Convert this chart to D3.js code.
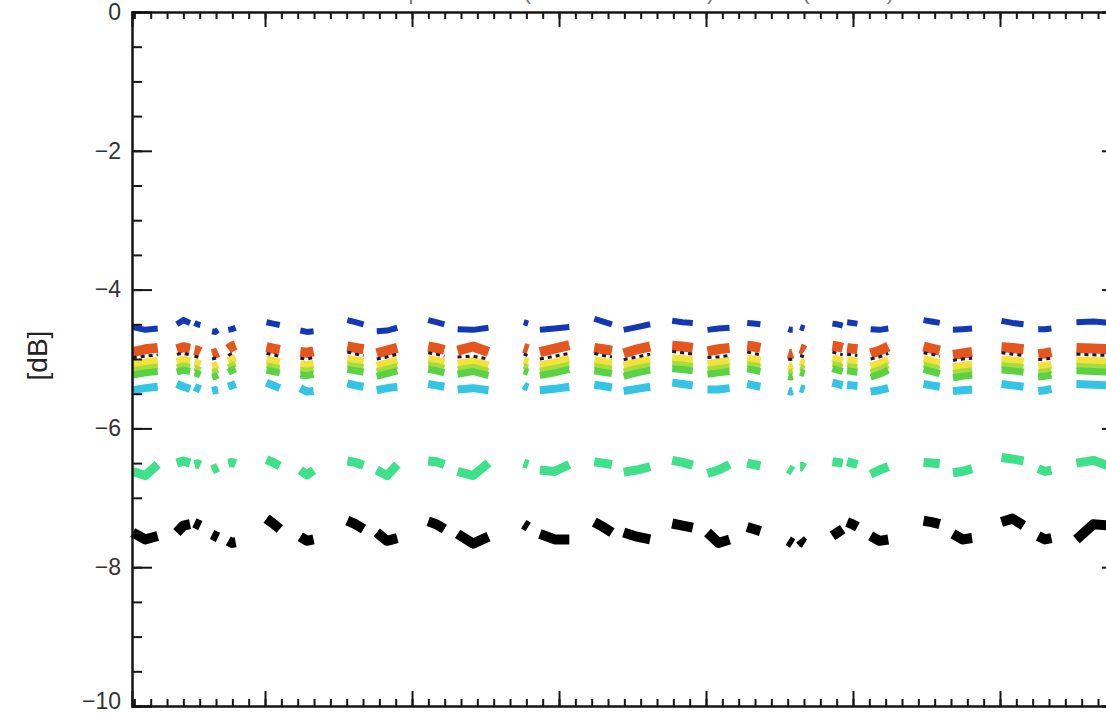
<!DOCTYPE html>
<html>
<head>
<meta charset="utf-8">
<script src="https://cdn.jsdelivr.net/npm/d3@7"></script>
<style>
  html, body { margin: 0; padding: 0; background: #ffffff; }
  svg { display: block; }
</style>
</head>
<body>
<div id="chart"></div>
<script>

// cluster start / end positions along the x axis (major tick = 1 unit)
const segStart = [0.10, 0.40, 0.52, 0.64, 0.75, 1.01, 1.24, 1.56, 1.76, 2.11, 2.31, 2.76, 2.87, 3.24,
                  3.44, 3.77, 4.01, 4.28, 4.56, 4.64, 4.86, 4.96, 5.12, 5.48, 5.68, 6.01, 6.26, 6.52];
const segEnd   = [0.27, 0.49, 0.56, 0.68, 0.80, 1.10, 1.33, 1.67, 1.90, 2.22, 2.52, 2.79, 3.07, 3.36,
                  3.62, 3.91, 4.16, 4.37, 4.59, 4.67, 4.93, 5.03, 5.24, 5.59, 5.81, 6.16, 6.35, 6.75];

// each series: [left, middle, right] value in dB for every cluster
const blueVals = [
  [-4.54,-4.58,-4.56],[-4.50,-4.44,-4.48],[-4.48,-4.50,-4.51],[-4.60,-4.61,-4.58],[-4.58,-4.57,-4.55],
  [-4.47,-4.49,-4.51],[-4.59,-4.61,-4.60],[-4.44,-4.47,-4.50],[-4.60,-4.59,-4.55],[-4.44,-4.47,-4.50],
  [-4.57,-4.58,-4.55],[-4.47,-4.48,-4.49],[-4.58,-4.56,-4.54],[-4.42,-4.46,-4.50],[-4.58,-4.54,-4.50],
  [-4.45,-4.47,-4.48],[-4.58,-4.56,-4.55],[-4.48,-4.49,-4.50],[-4.57,-4.58,-4.58],[-4.54,-4.55,-4.56],
  [-4.49,-4.50,-4.52],[-4.47,-4.48,-4.49],[-4.57,-4.58,-4.56],[-4.44,-4.46,-4.48],[-4.58,-4.57,-4.56],
  [-4.45,-4.48,-4.50],[-4.57,-4.57,-4.56],[-4.47,-4.46,-4.48]];

const orangeVals = [
  [-4.90,-4.86,-4.84],[-4.86,-4.83,-4.85],[-4.87,-4.88,-4.90],[-4.93,-4.92,-4.90],[-4.86,-4.82,-4.80],
  [-4.83,-4.85,-4.87],[-4.90,-4.91,-4.89],[-4.82,-4.84,-4.86],[-4.92,-4.88,-4.84],[-4.82,-4.84,-4.87],
  [-4.88,-4.82,-4.90],[-4.84,-4.85,-4.86],[-4.90,-4.85,-4.80],[-4.84,-4.86,-4.88],[-4.92,-4.86,-4.82],
  [-4.81,-4.82,-4.84],[-4.89,-4.86,-4.84],[-4.81,-4.82,-4.84],[-4.92,-4.93,-4.92],[-4.85,-4.86,-4.88],
  [-4.81,-4.82,-4.84],[-4.84,-4.85,-4.86],[-4.92,-4.88,-4.82],[-4.82,-4.85,-4.88],[-4.94,-4.92,-4.90],
  [-4.83,-4.84,-4.86],[-4.93,-4.92,-4.90],[-4.84,-4.85,-4.86]];

const navyVals = [
  [-4.98,-4.96,-4.94],[-4.93,-4.92,-4.94],[-4.96,-4.97,-4.98],[-5.00,-4.99,-4.98],[-4.95,-4.92,-4.90],
  [-4.92,-4.94,-4.96],[-4.99,-5.00,-4.98],[-4.90,-4.93,-4.95],[-5.00,-4.97,-4.93],[-4.91,-4.93,-4.96],
  [-4.97,-4.96,-5.00],[-4.93,-4.94,-4.95],[-5.00,-4.96,-4.92],[-4.92,-4.95,-4.97],[-5.01,-4.97,-4.93],
  [-4.89,-4.91,-4.93],[-4.98,-4.97,-4.95],[-4.90,-4.92,-4.94],[-5.00,-5.01,-5.00],[-4.95,-4.96,-4.97],
  [-4.90,-4.92,-4.94],[-4.93,-4.94,-4.95],[-5.00,-4.97,-4.92],[-4.91,-4.93,-4.96],[-5.02,-5.00,-4.99],
  [-4.91,-4.93,-4.95],[-5.01,-5.00,-4.99],[-4.93,-4.94,-4.95]];

const yellowVals = [
  [-5.08,-5.05,-5.03],[-5.04,-5.01,-5.03],[-5.05,-5.06,-5.08],[-5.11,-5.10,-5.08],[-5.04,-5.01,-4.99],
  [-5.01,-5.03,-5.05],[-5.08,-5.09,-5.07],[-5.00,-5.02,-5.04],[-5.10,-5.06,-5.02],[-5.00,-5.02,-5.05],
  [-5.07,-5.03,-5.09],[-5.02,-5.03,-5.04],[-5.09,-5.05,-5.00],[-5.02,-5.04,-5.06],[-5.10,-5.05,-5.01],
  [-4.99,-5.00,-5.02],[-5.07,-5.05,-5.03],[-4.99,-5.01,-5.03],[-5.10,-5.11,-5.10],[-5.04,-5.05,-5.06],
  [-4.99,-5.01,-5.03],[-5.02,-5.03,-5.04],[-5.11,-5.07,-5.01],[-5.00,-5.03,-5.06],[-5.12,-5.10,-5.08],
  [-5.01,-5.02,-5.04],[-5.11,-5.10,-5.08],[-5.02,-5.03,-5.04]];

const limeVals = [
  [-5.16,-5.13,-5.11],[-5.12,-5.09,-5.11],[-5.13,-5.14,-5.16],[-5.19,-5.18,-5.16],[-5.12,-5.09,-5.07],
  [-5.09,-5.11,-5.13],[-5.16,-5.17,-5.15],[-5.08,-5.10,-5.12],[-5.18,-5.14,-5.10],[-5.08,-5.10,-5.13],
  [-5.15,-5.11,-5.17],[-5.10,-5.11,-5.12],[-5.17,-5.13,-5.08],[-5.10,-5.12,-5.14],[-5.18,-5.13,-5.09],
  [-5.07,-5.08,-5.10],[-5.15,-5.13,-5.11],[-5.07,-5.09,-5.11],[-5.18,-5.19,-5.18],[-5.12,-5.13,-5.14],
  [-5.07,-5.09,-5.11],[-5.10,-5.11,-5.12],[-5.19,-5.15,-5.09],[-5.08,-5.11,-5.14],[-5.20,-5.18,-5.16],
  [-5.09,-5.10,-5.12],[-5.19,-5.18,-5.16],[-5.10,-5.11,-5.12]];

const greenVals = [
  [-5.23,-5.20,-5.18],[-5.19,-5.16,-5.18],[-5.20,-5.21,-5.23],[-5.26,-5.25,-5.23],[-5.19,-5.16,-5.14],
  [-5.16,-5.18,-5.20],[-5.23,-5.24,-5.22],[-5.15,-5.17,-5.19],[-5.25,-5.21,-5.17],[-5.15,-5.17,-5.20],
  [-5.22,-5.18,-5.24],[-5.17,-5.18,-5.19],[-5.24,-5.20,-5.15],[-5.17,-5.19,-5.21],[-5.25,-5.20,-5.16],
  [-5.14,-5.15,-5.17],[-5.22,-5.20,-5.18],[-5.14,-5.16,-5.18],[-5.25,-5.26,-5.25],[-5.19,-5.20,-5.21],
  [-5.14,-5.16,-5.18],[-5.17,-5.18,-5.19],[-5.26,-5.22,-5.16],[-5.15,-5.18,-5.21],[-5.27,-5.25,-5.23],
  [-5.16,-5.17,-5.19],[-5.26,-5.25,-5.23],[-5.17,-5.18,-5.19]];

const cyanVals = [
  [-5.45,-5.42,-5.40],[-5.36,-5.40,-5.43],[-5.40,-5.42,-5.44],[-5.46,-5.45,-5.44],[-5.40,-5.38,-5.36],
  [-5.34,-5.38,-5.42],[-5.42,-5.47,-5.46],[-5.35,-5.38,-5.40],[-5.45,-5.42,-5.40],[-5.36,-5.38,-5.40],
  [-5.44,-5.42,-5.45],[-5.38,-5.40,-5.41],[-5.45,-5.43,-5.40],[-5.37,-5.39,-5.41],[-5.46,-5.43,-5.40],
  [-5.34,-5.36,-5.38],[-5.44,-5.44,-5.42],[-5.36,-5.38,-5.40],[-5.46,-5.47,-5.46],[-5.42,-5.43,-5.44],
  [-5.34,-5.36,-5.38],[-5.37,-5.38,-5.39],[-5.47,-5.45,-5.42],[-5.36,-5.38,-5.40],[-5.46,-5.45,-5.44],
  [-5.36,-5.38,-5.40],[-5.46,-5.45,-5.43],[-5.36,-5.37,-5.38]];

const mintVals = [
  [-6.62,-6.68,-6.52],[-6.50,-6.47,-6.50],[-6.52,-6.51,-6.53],[-6.60,-6.58,-6.56],[-6.50,-6.49,-6.51],
  [-6.45,-6.49,-6.54],[-6.60,-6.67,-6.60],[-6.47,-6.49,-6.53],[-6.60,-6.68,-6.52],[-6.47,-6.48,-6.52],
  [-6.62,-6.68,-6.50],[-6.50,-6.51,-6.52],[-6.60,-6.62,-6.52],[-6.48,-6.50,-6.52],[-6.63,-6.60,-6.55],
  [-6.46,-6.49,-6.53],[-6.65,-6.60,-6.52],[-6.50,-6.52,-6.54],[-6.58,-6.60,-6.62],[-6.55,-6.55,-6.57],
  [-6.48,-6.49,-6.50],[-6.48,-6.50,-6.52],[-6.66,-6.60,-6.55],[-6.49,-6.50,-6.51],[-6.64,-6.62,-6.58],
  [-6.42,-6.44,-6.47],[-6.58,-6.62,-6.60],[-6.50,-6.46,-6.55]];

const blackVals = [
  [-7.50,-7.60,-7.55],[-7.50,-7.40,-7.38],[-7.36,-7.38,-7.40],[-7.53,-7.55,-7.57],[-7.62,-7.65,-7.64],
  [-7.30,-7.37,-7.45],[-7.56,-7.62,-7.60],[-7.33,-7.38,-7.45],[-7.50,-7.62,-7.58],[-7.34,-7.38,-7.45],
  [-7.52,-7.66,-7.56],[-7.38,-7.40,-7.42],[-7.52,-7.60,-7.60],[-7.35,-7.42,-7.50],[-7.50,-7.56,-7.60],
  [-7.37,-7.40,-7.43],[-7.50,-7.65,-7.60],[-7.42,-7.45,-7.48],[-7.62,-7.64,-7.66],[-7.60,-7.64,-7.66],
  [-7.55,-7.50,-7.45],[-7.35,-7.38,-7.42],[-7.55,-7.62,-7.60],[-7.33,-7.35,-7.38],[-7.52,-7.60,-7.58],
  [-7.35,-7.30,-7.40],[-7.55,-7.60,-7.58],[-7.60,-7.38,-7.40]];

const yTickValues = [0, -2, -4, -6, -8, -10];
const yTickLabels = ['0', '\u22122', '\u22124', '\u22126', '\u22128', '\u221210'];
const yLabel = '[dB]';
// only the descenders of the title show in the picture
const titleText = 'Relative power ratio (channel/reference) vs. time (minutes)';

// drawing order = overplot order
const series = [
  { vals: blueVals,   colour: '#1238b4', width: 6 },
  { vals: orangeVals, colour: '#e4561e', width: 10 },
  { vals: yellowVals, colour: '#f2e23a', width: 8 },
  { vals: limeVals,   colour: '#a6dc3c', width: 6 },
  { vals: greenVals,  colour: '#5ad246', width: 7 },
  { vals: cyanVals,   colour: '#34c4e4', width: 8 },
  { vals: navyVals,   colour: '#1c1440', width: 3, dash: '4,4' },
  { vals: mintVals,   colour: '#3ee08a', width: 9 },
  { vals: blackVals,  colour: '#000000', width: 10 }
];

function drawChart(target) {

  const width = 1106;
  const height = 713;
  const left = 132, right = 1122, top = 12, bottom = 706;

  const svg = d3.select(target)
    .append('svg')
    .attr('width', width)
    .attr('height', height)
    .style('background', '#ffffff');

  const x = d3.scaleLinear().domain([0.095, 6.83]).range([left, right]);
  const y = d3.scaleLinear().domain([-10, 0]).range([bottom, top]);

  svg.append('text')
    .attr('x', 323)
    .attr('y', -1.5)
    .style('font-family', 'Liberation Sans, Arial, sans-serif')
    .style('font-size', '22px')
    .style('fill', '#777')
    .text(titleText);

  // data clusters
  const line = d3.line()
    .x(d => x(d[0]))
    .y(d => y(d[1]));

  const plot = svg.append('g');

  series.forEach(s => {
    const paths = s.vals.map((v, i) => {
      const xm = (segStart[i] + segEnd[i]) / 2;
      return [[segStart[i], v[0]], [xm, v[1]], [segEnd[i], v[2]]];
    });
    plot.append('g')
      .selectAll('path')
      .data(paths)
      .enter()
      .append('path')
      .attr('d', line)
      .attr('fill', 'none')
      .attr('stroke', s.colour)
      .attr('stroke-width', s.width)
      .attr('stroke-linejoin', 'round')
      .attr('stroke-linecap', 'butt')
      .attr('stroke-dasharray', s.dash || null);
  });

  // axes
  const minorX = d3.range(0, 63).map(i => i / 9).filter(v => v > 0.095 && v < 6.83);
  const majorX = d3.range(1, 7);
  const minorY = d3.range(-10, 0.01, 0.5);

  const axes = [
    svg.append('g').attr('transform', `translate(0,${bottom})`)
      .call(d3.axisBottom(x).tickValues(minorX).tickSize(-7).tickFormat('')),
    svg.append('g').attr('transform', `translate(0,${bottom})`)
      .call(d3.axisBottom(x).tickValues(majorX).tickSize(-15).tickFormat('')),
    svg.append('g').attr('transform', `translate(0,${top})`)
      .call(d3.axisTop(x).tickValues(minorX).tickSize(-7).tickFormat('')),
    svg.append('g').attr('transform', `translate(0,${top})`)
      .call(d3.axisTop(x).tickValues(majorX).tickSize(-15).tickFormat('')),
    svg.append('g').attr('transform', `translate(${left},0)`)
      .call(d3.axisLeft(y).tickValues(minorY).tickSize(-10).tickFormat('')),
    svg.append('g').attr('class', 'ylab').attr('transform', `translate(${left},0)`)
      .call(d3.axisLeft(y).tickValues(yTickValues).tickSize(-20).tickPadding(11)
        .tickFormat((d, i) => yTickLabels[i])),
    svg.append('g').attr('transform', `translate(${right},0)`)
      .call(d3.axisRight(y).tickValues(minorY).tickSize(-10).tickFormat('')),
    svg.append('g').attr('transform', `translate(${right},0)`)
      .call(d3.axisRight(y).tickValues(yTickValues).tickSize(-20).tickFormat(''))
  ];

  axes.forEach(g => {
    g.selectAll('.domain').attr('stroke', '#151515').attr('stroke-width', 2);
    g.selectAll('.tick line').attr('stroke', '#151515').attr('stroke-width', 2);
    g.selectAll('.tick text')
      .style('font-family', 'Liberation Sans, Arial, sans-serif')
      .style('font-size', '23px')
      .style('fill', '#333');
  });

  // IDL keeps the lowest label inside the picture
  svg.selectAll('.ylab .tick text')
    .filter(d => d === -10)
    .attr('dy', '0.1em');

  svg.append('text')
    .attr('transform', `translate(47,${y(-4.95)}) rotate(-90)`)
    .attr('text-anchor', 'middle')
    .style('font-family', 'Liberation Sans, Arial, sans-serif')
    .style('font-size', '28px')
    .style('fill', '#222')
    .text(yLabel);
}

drawChart('#chart');
</script>
</body>
</html>
